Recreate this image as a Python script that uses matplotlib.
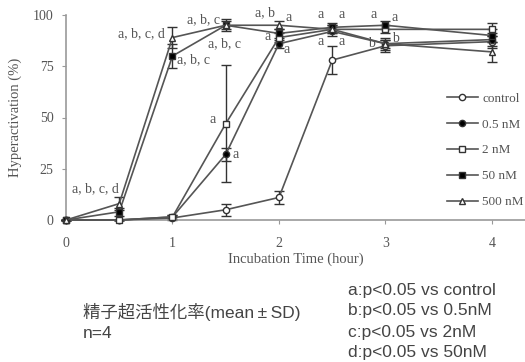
import matplotlib
matplotlib.use('Agg')
import matplotlib.pyplot as plt

# incubation time (hour)
hours = [0, 0.5, 1, 1.5, 2, 2.5, 3, 4]

# hyperactivation (%) mean and SD per group
labels = ['control', '0.5 nM', '2 nM', '50 nM', '500 nM']
control = [0, 0, 1, 5, 11, 78, 85, 87]
control_sd = [0, 0, 1, 3, 3, 7, 3, 3]
nm05 = [0, 0, 1.5, 32, 86, 92, 86, 88]
nm05_sd = [0, 0, 1, 3, 2, 2, 2, 3]
nm2 = [0, 0, 1.5, 47, 89, 93, 93, 93]
nm2_sd = [0, 0, 1, 28.5, 2, 2, 2, 3]
nm50 = [0, 4, 80, 95, 91, 94, 95, 90]
nm50_sd = [0, 2, 6, 2, 2, 2, 2, 3]
nm500 = [0, 8, 89, 95, 95, 93, 86, 82]
nm500_sd = [0, 3, 5, 3, 2, 2, 3, 5]

# significance marks (text, x, y, ha)
marks = [
    ('a, b, c, d', 0.5, 15.5, 'right'),
    ('a, b, c, d', 0.93, 91, 'right'),
    ('a, b, c', 1.04, 78, 'left'),
    ('a, b, c', 1.45, 97.5, 'right'),
    ('a, b, c', 1.33, 86, 'left'),
    ('a', 1.41, 49, 'right'),
    ('a', 1.56, 32, 'left'),
    ('a, b', 1.96, 101, 'right'),
    ('a', 2.06, 99, 'left'),
    ('a', 1.92, 89.5, 'right'),
    ('a', 2.04, 83, 'left'),
    ('a', 2.42, 100, 'right'),
    ('a', 2.56, 100, 'left'),
    ('a', 2.42, 87, 'right'),
    ('a', 2.56, 87, 'left'),
    ('a', 2.92, 100, 'right'),
    ('a', 3.06, 99, 'left'),
    ('b', 2.9, 86, 'right'),
    ('b', 3.06, 88.5, 'left'),
]

grey = '#555555'
dark = '#333333'
serif = ['Liberation Serif', 'DejaVu Serif']

fig = plt.figure(figsize=(5.25, 3.62), dpi=100)
ax = fig.add_axes([66 / 525, 142 / 362, 1 - 66 / 525, 205 / 362])

series = [control, nm05, nm2, nm50, nm500]
errors = [control_sd, nm05_sd, nm2_sd, nm50_sd, nm500_sd]
styles = [('o', 'white', 4.5), ('o', 'black', 4.5), ('s', 'white', 5),
          ('s', 'black', 5), ('^', 'white', 5)]

for vals, sd, lab, (mk, fc, ms) in zip(series, errors, labels, styles):
    ax.errorbar(hours, vals, yerr=sd, fmt='none', ecolor=dark, elinewidth=1.0,
                capsize=3.5, capthick=1.0, clip_on=False, zorder=2)
    ax.plot(hours, vals, color='#555555', lw=1.2, marker=mk, markersize=ms,
            markerfacecolor=fc, markeredgecolor=dark, markeredgewidth=1.0,
            label=lab, clip_on=False, zorder=3)

for txt, x, y, ha in marks:
    ax.text(x, y, txt, ha=ha, va='center', fontsize=10, color=grey,
            family=serif)

ax.set_xlim(0, 4.31)
ax.set_ylim(0, 100)
ax.set_xticks([0, 1, 2, 3, 4])
ax.set_yticks([0, 25, 50, 75, 100])
for s in ['top', 'right']:
    ax.spines[s].set_visible(False)
for s in ['left', 'bottom']:
    ax.spines[s].set_color('#999999')
    ax.spines[s].set_linewidth(1.2)
ax.tick_params(colors='#999999', labelcolor=grey, length=3, labelsize=10)
ax.tick_params(axis='x', pad=9)
ax.tick_params(axis='y', pad=6)
for t in ax.get_xticklabels() + ax.get_yticklabels():
    t.set_family(serif)

ax.set_ylabel('Hyperactivation (%)', family=serif, fontsize=10.5, color=grey, labelpad=8)
ax.set_xlabel('Incubation Time (hour)', family=serif, fontsize=10.5, color=grey, labelpad=2)

ax.legend(loc='upper left', bbox_to_anchor=(440 / 525, 1 - 86 / 362),
          bbox_transform=fig.transFigure, frameon=False, numpoints=1,
          handlelength=2.4, handletextpad=0.3, labelspacing=1.03, borderpad=0,
          prop={'family': serif, 'size': 9.5}, labelcolor=grey)

jp = ['Liberation Sans', 'Noto Sans CJK JP']
fig.text(83 / 525, 1 - 312 / 362, '精子超活性化率(mean\u2009\u00b1\u2009SD)', family=jp,
         fontsize=12.5, color='#444444', va='center')
fig.text(83 / 525, 1 - 334 / 362, 'n=4', family=jp, fontsize=12.5,
         color='#444444', va='center')
notes = ['a:p<0.05 vs control', 'b:p<0.05 vs 0.5nM',
         'c:p<0.05 vs 2nM', 'd:p<0.05 vs 50nM']
for i, n in enumerate(notes):
    fig.text(348 / 525, 1 - (290 + 21 * i) / 362, n, family=jp,
             fontsize=12.5, color='#444444', va='center')

fig.savefig('out.png', dpi=100)
